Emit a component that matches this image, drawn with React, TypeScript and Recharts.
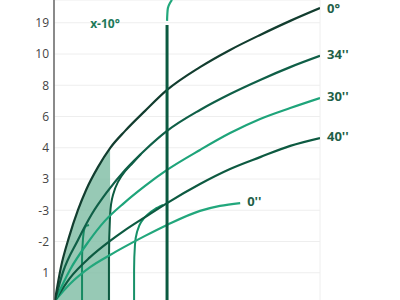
import React from 'react';
import {
  ComposedChart, Line, Area, XAxis, YAxis, CartesianGrid, ReferenceDot,
} from 'recharts';

// y axis tick labels, bottom to top (as printed on the source)
const yTickLabels = ['1', '-2', '-3', '3', '4', '6', '8', '10', '19'];
const yTicks = [1, 2, 3, 4, 5, 6, 7, 8, 9];
const xTicks = [1, 2, 3, 4, 5, 6, 7, 8, 9];

// fan of curves from the origin
const curve0deg = [
  { x: 0.03, y: 0.1 }, { x: 0.24, y: 1.18 }, { x: 0.52, y: 2.14 }, { x: 0.83, y: 3.01 },
  { x: 1.11, y: 3.65 }, { x: 1.52, y: 4.38 }, { x: 1.94, y: 4.99 }, { x: 2.46, y: 5.54 },
  { x: 3.15, y: 6.18 }, { x: 3.91, y: 6.85 }, { x: 5.05, y: 7.58 }, { x: 6.09, y: 8.13 },
  { x: 7.13, y: 8.61 }, { x: 8.17, y: 9.06 }, { x: 9.2, y: 9.47 },
];
const curve34 = [
  { x: 0.03, y: 0.1 }, { x: 0.31, y: 1.02 }, { x: 0.83, y: 2.05 }, { x: 1.31, y: 2.88 },
  { x: 1.83, y: 3.58 }, { x: 2.46, y: 4.29 }, { x: 3.15, y: 4.93 }, { x: 3.91, y: 5.54 },
  { x: 5.05, y: 6.21 }, { x: 6.09, y: 6.72 }, { x: 7.13, y: 7.17 }, { x: 8.17, y: 7.58 },
  { x: 9.2, y: 7.94 },
];
const curve30 = [
  { x: 0.03, y: 0.1 }, { x: 0.55, y: 1.09 }, { x: 1.18, y: 1.98 }, { x: 1.76, y: 2.66 },
  { x: 2.42, y: 3.23 }, { x: 3.15, y: 3.78 }, { x: 3.91, y: 4.29 }, { x: 5.05, y: 4.93 },
  { x: 6.09, y: 5.47 }, { x: 7.13, y: 5.92 }, { x: 8.17, y: 6.27 }, { x: 9.2, y: 6.59 },
];
const curve40 = [
  { x: 0.03, y: 0.1 }, { x: 0.55, y: 0.83 }, { x: 1.25, y: 1.5 }, { x: 1.94, y: 2.02 },
  { x: 2.42, y: 2.34 }, { x: 3.15, y: 2.78 }, { x: 3.91, y: 3.23 }, { x: 5.05, y: 3.84 },
  { x: 6.09, y: 4.32 }, { x: 7.13, y: 4.7 }, { x: 8.17, y: 5.06 }, { x: 9.2, y: 5.31 },
];
const curve0 = [
  { x: 0.03, y: 0.1 }, { x: 0.55, y: 0.64 }, { x: 1.25, y: 1.18 }, { x: 1.94, y: 1.57 },
  { x: 2.42, y: 1.82 }, { x: 3.15, y: 2.18 }, { x: 3.91, y: 2.53 }, { x: 5.05, y: 2.98 },
  { x: 5.74, y: 3.14 }, { x: 6.44, y: 3.23 },
];

// rising stems that bend to the right
const stem1 = [
  { x: 0.97, y: 0 }, { x: 0.97, y: 1.41 }, { x: 1.0, y: 2.05 }, { x: 1.04, y: 2.37 },
  { x: 1.11, y: 2.5 }, { x: 1.21, y: 2.53 },
];
const stem2 = [
  { x: 1.9, y: 0 }, { x: 1.9, y: 1.41 }, { x: 1.94, y: 2.85 }, { x: 2.04, y: 3.49 },
  { x: 2.21, y: 3.9 }, { x: 2.46, y: 4.25 }, { x: 2.73, y: 4.52 }, { x: 3.01, y: 4.8 },
];
const stem3 = [
  { x: 2.77, y: 0 }, { x: 2.77, y: 1.09 }, { x: 2.8, y: 1.89 }, { x: 2.87, y: 2.3 },
  { x: 3.01, y: 2.62 }, { x: 3.22, y: 2.85 }, { x: 3.49, y: 3.04 }, { x: 3.77, y: 3.17 },
];
const stemMain = [{ x: 3.91, y: 0 }, { x: 3.91, y: 8.93 }];
const stemTop = [
  { x: 3.91, y: 9.06 }, { x: 3.92, y: 9.28 }, { x: 3.94, y: 9.47 }, { x: 4.01, y: 9.63 },
  { x: 4.08, y: 9.73 },
];

const shaded = curve0deg.filter(p => p.x <= 1.94);

function endLabel(text: string, count: number, dy = -2) {
  return (props: any) => {
    if (props.index !== count - 1) return null;
    return (
      <text x={props.x + 7} y={props.y + dy} dominantBaseline="central" fill="#1f5f48"
        fontSize={13} fontWeight={700} fontFamily="Open Sans">{text}</text>
    );
  };
}

export default function App() {
  const font = 'Open Sans';
  return (
    <div style={{ position: 'absolute', left: 0, top: 0, width: 400, height: 300, overflow: 'hidden', background: '#fff' }}>
      <ComposedChart width={400} height={304} margin={{ top: 0, right: 80, bottom: 0, left: 0 }}>
        <CartesianGrid stroke="#eeeeee" strokeWidth={1} />
        <XAxis type="number" dataKey="x" domain={[0, 9.2]} ticks={xTicks} allowDataOverflow
          height={0} tick={false} axisLine={false} tickLine={false} />
        <YAxis type="number" dataKey="y" domain={[0, 9.728]} ticks={yTicks} allowDataOverflow width={54}
          axisLine={{ stroke: '#666', strokeWidth: 1.5 }} tickLine={false} tickSize={0} tickMargin={5}
          tick={{ fill: '#444', fontSize: 12, fontFamily: font }}
          tickFormatter={(v: number) => yTickLabels[v - 1] ?? ''} />

        <Area data={shaded} dataKey="y" type="monotone" stroke="none" fill="#7dbba3" fillOpacity={0.8}
          isAnimationActive={false} />

        <Line data={stem1} dataKey="y" type="monotoneY" stroke="#178a62" strokeWidth={2} dot={false} isAnimationActive={false} />
        <Line data={stem2} dataKey="y" type="monotoneY" stroke="#0d5a40" strokeWidth={2} dot={false} isAnimationActive={false} />
        <Line data={stem3} dataKey="y" type="monotoneY" stroke="#179068" strokeWidth={2} dot={false} isAnimationActive={false} />

        <Line data={curve0} dataKey="y" type="monotone" stroke="#22a77c" strokeWidth={2.2} dot={false}
          isAnimationActive={false} label={endLabel("0''", curve0.length)} />
        <Line data={curve40} dataKey="y" type="monotone" stroke="#0d5a41" strokeWidth={2.2} dot={false}
          isAnimationActive={false} label={endLabel("40''", curve40.length)} />
        <Line data={curve30} dataKey="y" type="monotone" stroke="#1ea47a" strokeWidth={2.2} dot={false}
          isAnimationActive={false} label={endLabel("30''", curve30.length)} />
        <Line data={curve34} dataKey="y" type="monotone" stroke="#0f5f47" strokeWidth={2.2} dot={false}
          isAnimationActive={false} label={endLabel("34''", curve34.length)} />
        <Line data={curve0deg} dataKey="y" type="monotone" stroke="#123d2f" strokeWidth={2.2} dot={false}
          isAnimationActive={false} label={endLabel('0°', curve0deg.length, 0)} />

        <Line data={stemMain} dataKey="y" type="linear" stroke="#0b5a40" strokeWidth={3} dot={false} isAnimationActive={false} />
        <Line data={stemTop} dataKey="y" type="monotoneY" stroke="#22a87c" strokeWidth={2.2} dot={false} isAnimationActive={false} />

        <ReferenceDot x={1.25} y={8.96} r={0} fill="none" stroke="none"
          label={{ value: 'x-10°', position: 'right', offset: 0, fill: '#1c7a5a', fontSize: 12, fontWeight: 700, fontFamily: font }} />
      </ComposedChart>
    </div>
  );
}
